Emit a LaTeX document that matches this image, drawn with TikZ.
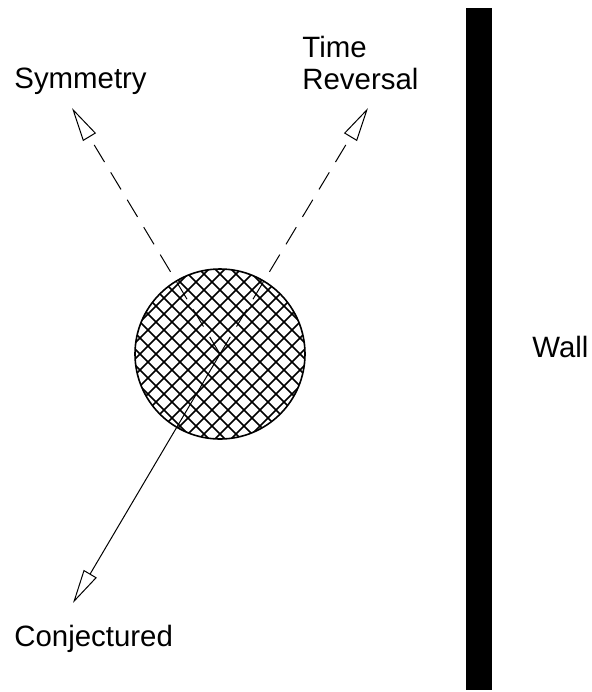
\documentclass[tikz,border=0pt]{standalone}
\usepackage{fontspec}
\setmainfont{Liberation Sans}
\usetikzlibrary{arrows.meta,calc}

\begin{document}
\begin{tikzpicture}[x=0.5pt,y=-0.5pt,
  lbl/.style={inner sep=0pt,font=\fontsize{14.7}{16}\selectfont},
  ray/.style={line width=0.5pt,-{Triangle[open,length=17pt,width=7.5pt]}},
  dashray/.style={ray,dash pattern=on 10pt off 6pt}]

\useasboundingbox (0,0) rectangle (592,692);

% Wall
\fill[black] (466,8) rectangle (492,690);
\node[lbl,anchor=base west] (wall) at (532,357) {Wall};

% Ball with cross hatching
\coordinate (hit) at (220,354);
\begin{scope}
\clip (hit) circle (85);
\foreach \k in {-12,...,12} {
  \draw[line width=0.75pt] ($(hit)+(\k*16-100,-100)$) -- ($(hit)+(\k*16+100,100)$);
  \draw[line width=0.75pt] ($(hit)+(\k*16+100,-100)$) -- ($(hit)+(\k*16-100,100)$);
}
\end{scope}
\draw[line width=0.8pt] (hit) circle (85);

% Rays
\coordinate (symtip) at (72,108);
\coordinate (revtip) at (368,108);
\coordinate (contip) at (73,603);
\draw[dashray] (hit) -- (symtip);
\draw[dashray] (hit) -- (revtip);
\draw[ray] (hit) -- (contip);

% Labels
\node[lbl,anchor=base west] (sym) at (14,88) {Symmetry};
\node[lbl,anchor=base west,align=left] (rev) at (302,89) {Time\\Reversal};
\node[lbl,anchor=base west] (con) at (14,646) {Conjectured};

\end{tikzpicture}
\end{document}
